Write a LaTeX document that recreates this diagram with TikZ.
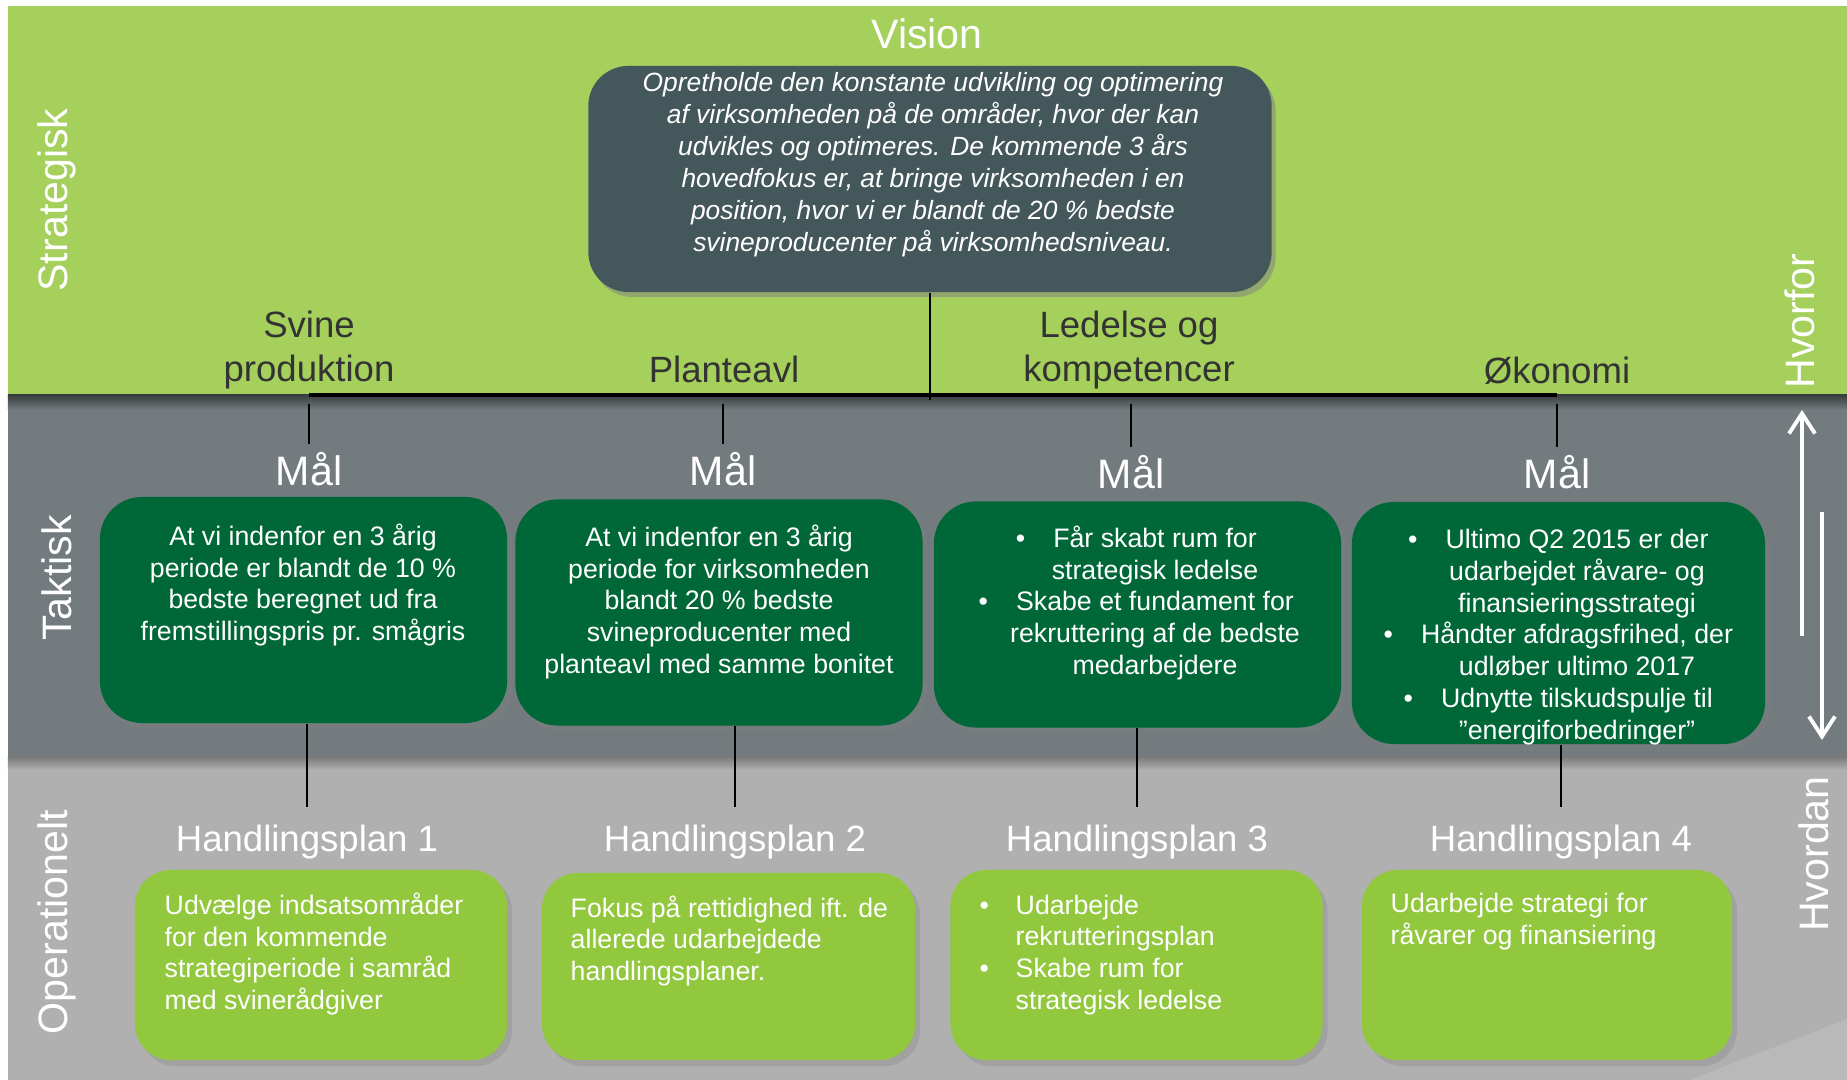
\documentclass[tikz,border=0pt]{standalone}
\usepackage{fontspec}
\setmainfont{Liberation Sans}
\usepackage{xcolor}
\usepackage{tikz}
\usetikzlibrary{positioning, calc, shadows, arrows.meta}

\definecolor{stratgreen}{HTML}{A5D05C}
\definecolor{taktgray}{HTML}{737B7E}
\definecolor{opergray}{HTML}{B0B0B0}
\definecolor{visionslate}{HTML}{44585B}
\definecolor{goalgreen}{HTML}{006838}
\definecolor{plangreen}{HTML}{92C83E}
\definecolor{headgray}{HTML}{333333}

\tikzset{
  levellabel/.style={
    rotate=90,
    text=white,
    font=\fontsize{11.7}{14}\selectfont
  },
  heading/.style={
    text=headgray,
    align=center,
    font=\fontsize{10.4}{12.4}\selectfont
  },
  goaltitle/.style={
    text=white,
    inner sep=2pt,
    font=\fontsize{11.7}{14}\selectfont
  },
  plantitle/.style={
    text=white,
    inner sep=5pt,
    font=\fontsize{10.4}{12.4}\selectfont
  },
  goalbox/.style={
    rectangle,
    rounded corners=0.42cm,
    fill=goalgreen,
    minimum width=4.07cm,
    minimum height=2.26cm,
    drop shadow={shadow xshift=0.05cm, shadow yshift=-0.06cm, opacity=0.35}
  },
  planbox/.style={
    rectangle,
    rounded corners=0.36cm,
    fill=plangreen,
    minimum width=3.72cm,
    minimum height=1.9cm,
    drop shadow={shadow xshift=0.05cm, shadow yshift=-0.06cm, opacity=0.3}
  },
  boxtext/.style={
    text=white,
    inner sep=0pt,
    font=\fontsize{7.6}{9.05}\selectfont
  },
  link/.style={
    draw=black,
    line width=0.5pt
  },
  flowarrow/.style={
    draw=white,
    line width=1.1pt,
    -{Straight Barb[length=2mm, width=2.6mm]}
  }
}

\newcommand{\goalitem}{\llap{\textbullet\hspace{0.28cm}}}
\newcommand{\planitem}{\makebox[0.36cm][l]{\textbullet}}

\begin{document}
\begin{tikzpicture}[x=0.01cm, y=-0.01cm,
  visionbox/.style={rectangle, rounded corners=0.4cm, fill=visionslate, minimum width=6.83cm, minimum height=2.26cm, drop shadow={shadow xshift=0.04cm, shadow yshift=-0.05cm, opacity=0.5}},
  visiontext/.style={text=white, align=center, inner sep=0pt, font=\fontsize{7.5}{9.1}\selectfont\itshape}
]
  \useasboundingbox (0,0) rectangle (1847,1080);
  \fill[white] (0,0) rectangle (1847,1080);

  % LEVEL BANDS
  \fill[stratgreen] (8,6) rectangle (1847,395);
  \fill[taktgray] (8,395) rectangle (1847,757);
  \fill[opergray] (8,757) rectangle (1847,1080);
  \shade[top color=black!50!taktgray, bottom color=taktgray] (8,395) rectangle (1847,410);
  \shade[top color=black!30!opergray, bottom color=opergray] (8,757) rectangle (1847,770);
  \fill[white, opacity=0.12] (1690,1080) -- (1847,1019) -- (1847,1080) -- cycle;

  \node (L_strat) [levellabel] at (57,200) {Strategisk};
  \node (L_takt)  [levellabel] at (57,578) {Taktisk};
  \node (L_oper)  [levellabel] at (57,922) {Operationelt};
  \node (L_why)   [levellabel] at (1800,321) {Hvorfor};
  \node (L_how)   [levellabel] at (1814,854) {Hvordan};

  \coordinate (why_base) at (1802,636);
  \coordinate (why_tip)  at (1802,410);
  \coordinate (how_base) at (1822,512);
  \coordinate (how_tip)  at (1822,740);
  \draw[flowarrow] (why_base) -- (why_tip);
  \draw[flowarrow] (how_base) -- (how_tip);

  % VISION
  \node (V_title) [goaltitle] at (927,34) {Vision};
  \node (V_box) [visionbox] at (930,179) {};
  \node (V_text) [visiontext] at (933,165) {Opretholde den konstante udvikling og optimering\\af virksomheden på de områder, hvor der kan\\udvikles og optimeres. De kommende 3 års\\hovedfokus er, at bringe virksomheden i en\\position, hvor vi er blandt de 20 \% bedste\\svineproducenter på virksomhedsniveau.};

  % FOCUS AREAS
  \node (H1) [heading] at (309,350) {Svine\\produktion};
  \node (H2) [heading] at (724,369) {Planteavl};
  \node (H3) [heading] at (1129,350) {Ledelse og\\kompetencer};
  \node (H4) [heading] at (1557,371) {Økonomi};

  \coordinate (bar) at (0,395);
  \coordinate (bar_low) at (0,404);
  \coordinate (V_stem) at (930,400);
  \draw[link, line width=0.9pt] (H1.south |- bar) -- (H4.south |- bar);
  \draw[link] (V_box.south) -- (V_stem);

  % GOALS
  \node (Gt1) [goaltitle] at (309,469) {Mål};
  \node (Gt2) [goaltitle] at (723,469) {Mål};
  \node (Gt3) [goaltitle] at (1131,472) {Mål};
  \node (Gt4) [goaltitle] at (1557,472) {Mål};

  \node (G1) [goalbox] at (303.5,610) {};
  \node (G2) [goalbox] at (719,612.5) {};
  \node (G3) [goalbox] at (1137.5,614.5) {};
  \node (G4) [goalbox, minimum width=4.13cm, minimum height=2.42cm] at (1558.5,623) {};

  \node (G1_text) [boxtext, align=center] at (303,585) {At vi indenfor en 3 årig\\periode er blandt de 10 \%\\bedste beregnet ud fra\\fremstillingspris pr. smågris};
  \node (G2_text) [boxtext, align=center] at (719,602) {At vi indenfor en 3 årig\\periode for virksomheden\\blandt 20 \% bedste\\svineproducenter med\\planteavl med samme bonitet};
  \node (G3_text) [boxtext, align=center] at (1155,603) {\goalitem Får skabt rum for\\strategisk ledelse\\\goalitem Skabe et fundament for\\rekruttering af de bedste\\medarbejdere};
  \node (G4_text) [boxtext, align=center] at (1577,637) {\goalitem Ultimo Q2 2015 er der\\udarbejdet råvare- og\\finansieringsstrategi\\\goalitem Håndter afdragsfrihed, der\\udløber ultimo 2017\\\goalitem Udnytte tilskudspulje til\\”energiforbedringer”};

  % ACTION PLANS
  \node (At1) [plantitle] at (307,842) {Handlingsplan 1};
  \node (At2) [plantitle] at (735,842) {Handlingsplan 2};
  \node (At3) [plantitle] at (1137,842) {Handlingsplan 3};
  \node (At4) [plantitle] at (1561,842) {Handlingsplan 4};

  \node (A1) [planbox] at (321,965) {};
  \node (A2) [planbox, minimum width=3.73cm, minimum height=1.87cm] at (728.5,966.5) {};
  \node (A3) [planbox] at (1136.5,965) {};
  \node (A4) [planbox, minimum width=3.7cm] at (1547,965) {};

  \node (A1_text) [boxtext, align=left, anchor=west] at (164,954) {Udvælge indsatsområder\\for den kommende\\strategiperiode i samråd\\med svinerådgiver};
  \node (A2_text) [boxtext, align=left, anchor=west] at (570,941) {Fokus på rettidighed ift. de\\allerede udarbejdede\\handlingsplaner.};
  \node (A3_text) [boxtext, align=left, anchor=west] at (979,955) {\planitem Udarbejde\\\hspace*{0.36cm}rekrutteringsplan\\\planitem Skabe rum for\\\hspace*{0.36cm}strategisk ledelse};
  \node (A4_text) [boxtext, align=left, anchor=west] at (1390,922) {Udarbejde strategi for\\råvarer og finansiering};

  % CONNECTIONS
  \foreach \i in {1,...,4}{
    \draw[link] (Gt\i.north |- bar_low) -- (Gt\i.north);
    \draw[link] (At\i.north |- G\i.south) -- (At\i.north);
  }

\end{tikzpicture}
\end{document}
